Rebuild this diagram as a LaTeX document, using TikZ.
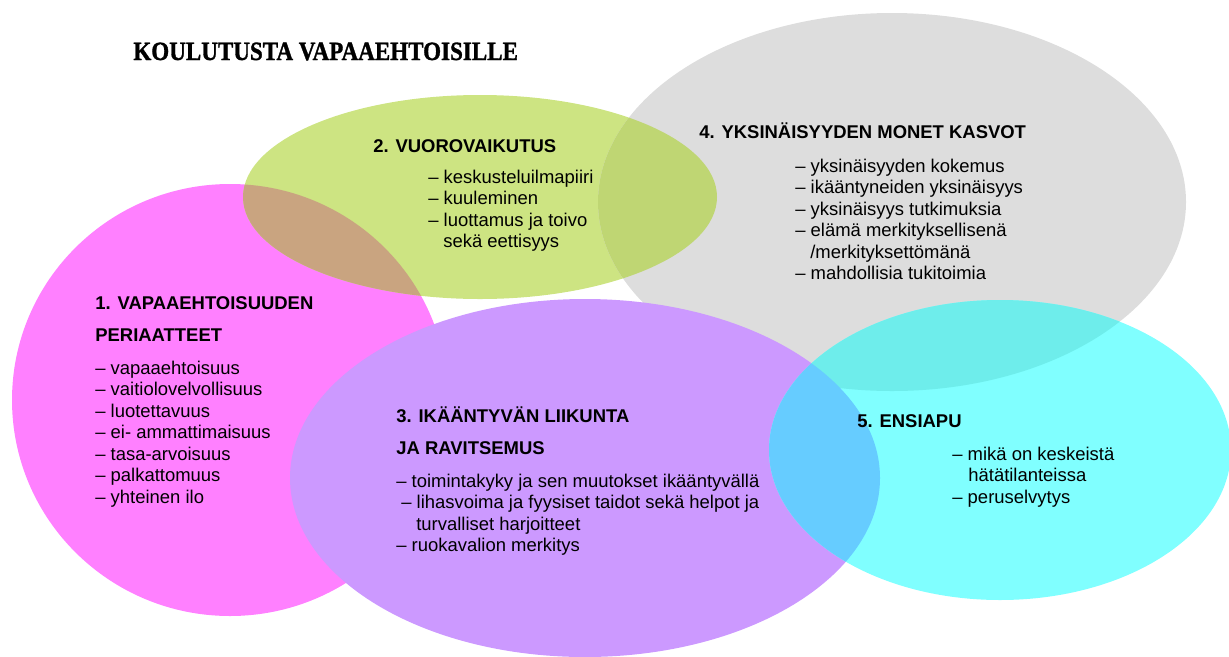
\documentclass[tikz,border=0pt]{standalone}
\usepackage{fontspec}
\setmainfont{Liberation Sans}
\newfontfamily\titlefont[FakeStretch=0.875,FakeBold=1.2]{Liberation Serif}
\usepackage{tikz}

\definecolor{pinkfill}{HTML}{FF80FF}
\definecolor{greenfill}{HTML}{CDE482}
\definecolor{brownfill}{HTML}{C9A480}
\definecolor{grayfill}{HTML}{DDDDDD}
\definecolor{olivefill}{HTML}{BFD673}
\definecolor{purplefill}{HTML}{CC99FF}
\definecolor{cyanfill}{HTML}{80FFFF}
\definecolor{tealfill}{HTML}{6EEDEB}
\definecolor{bluefill}{HTML}{66CCFF}

\begin{document}
\begin{tikzpicture}[
		x=0.02cm, y=-0.02cm,
		head/.style={anchor=base west, inner sep=0pt, font=\fontsize{10.5}{12}\selectfont\bfseries},
		item/.style={anchor=base west, inner sep=0pt, font=\fontsize{10.5}{12}\selectfont}
	]
	\useasboundingbox (0,0) rectangle (1229,656);
	\def\pinkE{(230,400) ellipse [x radius=218, y radius=216]}
	\def\greenE{(480,197) ellipse [x radius=237, y radius=102]}
	\def\grayE{(892,202) ellipse [x radius=294, y radius=189]}
	\def\purpleE{(585,478) ellipse [x radius=295, y radius=179]}
	\def\cyanE{(1000,450) ellipse [x radius=231, y radius=150]}

	\fill[pinkfill] \pinkE;
	\fill[greenfill] \greenE;
	\begin{scope}
		\clip \pinkE;
		\fill[brownfill] \greenE;
	\end{scope}
	\fill[grayfill] \grayE;
	\begin{scope}
		\clip \greenE;
		\fill[olivefill] \grayE;
	\end{scope}
	\fill[purplefill] \purpleE;
	\fill[cyanfill] \cyanE;
	\begin{scope}
		\clip \grayE;
		\fill[tealfill] \cyanE;
	\end{scope}
	\begin{scope}
		\clip \purpleE;
		\fill[bluefill] \cyanE;
	\end{scope}

	\node[anchor=base west, inner sep=0pt, font=\titlefont\fontsize{15}{17}\selectfont\bfseries] (title) at (133,60) {KOULUTUSTA VAPAAEHTOISILLE};

	\node[head] (h1a) at (95,309) {1. VAPAAEHTOISUUDEN};
	\node[head] (h1b) at (95,341) {PERIAATTEET};
	\foreach \t [count=\i] in {vapaaehtoisuus, vaitiolovelvollisuus, luotettavuus, ei- ammattimaisuus, tasa-arvoisuus, palkattomuus, yhteinen ilo}
		\node[item] (g1i\i) at (95,{352.5+21.5*\i}) {– \t};

	\node[head] (h2) at (373,152) {2. VUOROVAIKUTUS};
	\foreach \dx/\t [count=\i] in {0/{– keskusteluilmapiiri}, 0/{– kuuleminen}, 0/{– luottamus ja toivo}, 15/{sekä eettisyys}}
		\node[item] (g2i\i) at ({428+\dx},{161.5+21.5*\i}) {\t};

	\node[head] (h3a) at (396,422) {3. IKÄÄNTYVÄN LIIKUNTA};
	\node[head] (h3b) at (396,454) {JA RAVITSEMUS};
	\foreach \dx/\t [count=\i] in {0/{– toimintakyky ja sen muutokset ikääntyvällä}, 5/{– lihasvoima ja fyysiset taidot sekä helpot ja}, 20/{turvalliset harjoitteet}, 0/{– ruokavalion merkitys}}
		\node[item] (g3i\i) at ({396+\dx},{465.5+21.5*\i}) {\t};

	\node[head] (h4) at (699,138) {4. YKSINÄISYYDEN MONET KASVOT};
	\foreach \dx/\t [count=\i] in {0/{– yksinäisyyden kokemus}, 0/{– ikääntyneiden yksinäisyys}, 0/{– yksinäisyys tutkimuksia}, 0/{– elämä merkityksellisenä}, 15/{/merkityksettömänä}, 0/{– mahdollisia tukitoimia}}
		\node[item] (g4i\i) at ({795+\dx},{150.5+21.5*\i}) {\t};

	\node[head] (h5) at (857,427) {5. ENSIAPU};
	\foreach \dx/\t [count=\i] in {0/{– mikä on keskeistä}, 16/{hätätilanteissa}, 0/{– peruselvytys}}
		\node[item] (g5i\i) at ({952+\dx},{438.5+21.5*\i}) {\t};
\end{tikzpicture}
\end{document}
